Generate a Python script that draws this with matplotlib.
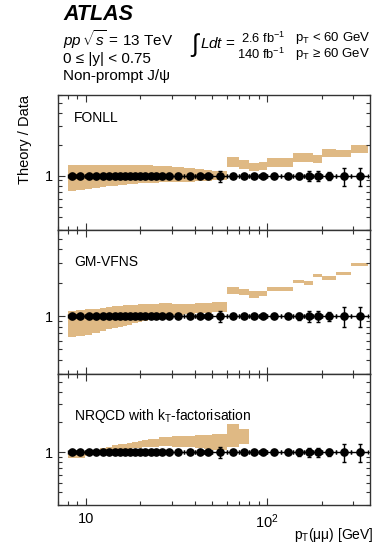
"""Theory / Data ratios for non-prompt J/psi production, 0 <= |y| < 0.75."""

import matplotlib
matplotlib.use("Agg")
import matplotlib.pyplot as plt
import numpy as np
from matplotlib.ticker import FixedLocator, NullFormatter, FixedFormatter

plt.rcParams["font.family"] = ["Liberation Sans", "DejaVu Sans"]
plt.rcParams["mathtext.fontset"] = "custom"
plt.rcParams["mathtext.rm"] = "Liberation Sans"
plt.rcParams["mathtext.it"] = "Liberation Sans:italic"
plt.rcParams["mathtext.bf"] = "Liberation Sans:bold"

# pT(mumu) bin edges [GeV]
pt_edges = np.array([8, 8.8, 9.9, 10.9, 12, 13, 14, 15, 16, 17, 18, 19.4, 20.5, 22,
                     23.6, 25.5, 27.5, 30, 35, 40, 45, 50, 60, 70, 80, 90, 100, 120,
                     140, 160, 180, 200, 240, 290, 360])

# relative total uncertainty of the data in each bin
data_err = np.array([0.02, 0.02, 0.02, 0.02, 0.02, 0.02, 0.02, 0.02, 0.02, 0.02, 0.02,
                     0.02, 0.02, 0.02, 0.02, 0.02, 0.02, 0.03, 0.03, 0.03, 0.04, 0.12,
                     0.03, 0.03, 0.03, 0.03, 0.03, 0.04, 0.07, 0.11, 0.11, 0.09, 0.2,
                     0.2])

# FONLL / data band (lower, upper)
fonll_lo = [0.71, 0.73, 0.75, 0.77, 0.78, 0.79, 0.80, 0.81, 0.82, 0.83, 0.84, 0.85,
            0.85, 0.86, 0.86, 0.87, 0.87, 0.88, 0.88, 0.89, 0.89, 0.90,
            1.21, 1.16, 1.11, 1.13, 1.21, 1.21, 1.35, 1.35, 1.33, 1.50, 1.52, 1.67]
fonll_hi = [1.26, 1.27, 1.27, 1.28, 1.28, 1.28, 1.28, 1.28, 1.28, 1.27, 1.27, 1.27,
            1.26, 1.26, 1.25, 1.24, 1.23, 1.21, 1.18, 1.15, 1.13, 1.12,
            1.50, 1.42, 1.34, 1.36, 1.47, 1.47, 1.65, 1.65, 1.60, 1.83, 1.78, 2.00]

# GM-VFNS / data band
gmvfns_lo = [0.645, 0.66, 0.68, 0.71, 0.74, 0.76, 0.78, 0.80, 0.82, 0.84, 0.86, 0.88,
             0.91, 0.94, 0.97, 0.99, 1.00, 1.02, 1.04, 1.06, 1.07, 1.08,
             1.59, 1.54, 1.45, 1.51, 1.68, 1.68, 2.00, 1.92, 2.25, 2.14, 2.33, 2.86]
gmvfns_hi = [1.12, 1.13, 1.15, 1.17, 1.19, 1.21, 1.23, 1.24, 1.25, 1.26, 1.27, 1.28,
             1.29, 1.30, 1.30, 1.31, 1.31, 1.30, 1.30, 1.31, 1.32, 1.34,
             1.83, 1.77, 1.67, 1.70, 1.85, 1.85, 2.14, 2.08, 2.41, 2.29, 2.49, 3.03]

# NRQCD (kT-factorisation) / data band, available up to 80 GeV
nrqcd_lo = [0.87, 0.87, 0.93, 0.97, 0.99, 1.01, 1.03, 1.05, 1.07, 1.08, 1.10, 1.11,
            1.12, 1.13, 1.14, 1.16, 1.15, 1.14, 1.13, 1.11, 1.09, 1.06,
            1.14, 1.20] + [np.nan] * 10
nrqcd_hi = [1.02, 1.02, 1.03, 1.06, 1.10, 1.14, 1.17, 1.20, 1.22, 1.25, 1.28, 1.30,
            1.33, 1.35, 1.37, 1.43, 1.42, 1.44, 1.46, 1.48, 1.50, 1.52,
            1.92, 1.70] + [np.nan] * 10

models = [("FONLL", fonll_lo, fonll_hi),
          ("GM-VFNS", gmvfns_lo, gmvfns_hi),
          (r"NRQCD with k$_\mathrm{T}$-factorisation", nrqcd_lo, nrqcd_hi)]

band_color = "#dfb984"
W, H = 376, 543

fig = plt.figure(figsize=(W / 100, H / 100), dpi=100)


def ftext(x, y, s, **kw):
    fig.text(x / W, 1 - y / H, s, **kw)


# panel extents in pixels (top, bottom) and label heights
panel_px = [(95, 230), (230, 374), (374, 505)]
label_y = [118, 262, 416]
left_px, right_px = 57.5, 370

centers = 0.5 * (pt_edges[:-1] + pt_edges[1:])
xerr = [centers - pt_edges[:-1], pt_edges[1:] - centers]
widths = np.diff(pt_edges)

for i, ((top, bot), (name, lo, hi)) in enumerate(zip(panel_px, models)):
    ax = fig.add_axes([left_px / W, 1 - bot / H, (right_px - left_px) / W, (bot - top) / H])
    lo = np.asarray(lo, dtype=float)
    hi = np.asarray(hi, dtype=float)
    ok = np.isfinite(lo)
    ax.bar(pt_edges[:-1][ok], (hi - lo)[ok], width=widths[ok], bottom=lo[ok],
           align="edge", color=band_color, linewidth=0, zorder=1)
    ax.errorbar(centers, np.ones_like(centers), xerr=xerr, yerr=data_err,
                fmt="o", color="black", ms=5.2, elinewidth=1.0, capsize=1.5,
                capthick=1.0, zorder=3)

    ax.set_xscale("log")
    ax.set_yscale("log")
    ax.set_xlim(7, 370)
    ax.set_ylim(0.3, 6)

    ax.xaxis.set_major_locator(FixedLocator([10, 100]))
    ax.xaxis.set_minor_locator(FixedLocator([7, 8, 9, 20, 30, 40, 50, 60, 70, 80, 90,
                                             200, 300]))
    ax.xaxis.set_minor_formatter(NullFormatter())
    if i == 2:
        ax.xaxis.set_major_formatter(FixedFormatter(["10", r"10$^2$"]))
    else:
        ax.xaxis.set_major_formatter(NullFormatter())

    ax.yaxis.set_major_locator(FixedLocator([1]))
    ax.yaxis.set_major_formatter(FixedFormatter(["1"]))
    ax.yaxis.set_minor_locator(FixedLocator([0.3, 0.4, 0.5, 0.6, 0.7, 0.8, 0.9,
                                             2, 3, 4, 5, 6]))
    ax.yaxis.set_minor_formatter(NullFormatter())

    ax.tick_params(which="both", direction="in", top=True, right=True,
                   labelsize=10.5, width=0.8, color="#333333")
    ax.tick_params(which="major", length=5)
    ax.tick_params(which="minor", length=3)
    ax.tick_params(axis="x", pad=5)
    for s in ax.spines.values():
        s.set_linewidth(1.0)
        s.set_color("#333333")

    ftext(74, label_y[i], name, fontsize=10, va="center", ha="left")


ftext(63, 15, "ATLAS", fontsize=15.5, fontweight="bold", fontstyle="italic", va="center")
ftext(63, 40, r"$pp\,\sqrt{s}$ = 13 TeV", fontsize=11, va="center")
ftext(63, 59, "0 ≤ |y| < 0.75", fontsize=11, va="center")
ftext(63, 76, "Non-prompt J/ψ", fontsize=11, va="center")

ftext(190, 45, r"$\int$", fontsize=18, va="center")
ftext(200, 43, r"$Ldt$ =", fontsize=11, va="center")
ftext(285, 38, r"2.6 fb$^{-1}$", fontsize=9.3, va="center", ha="right")
ftext(285, 54, r"140 fb$^{-1}$", fontsize=9.3, va="center", ha="right")
ftext(295, 38, r"p$_\mathrm{T}$ < 60 GeV", fontsize=9.5, va="center")
ftext(295, 54, r"p$_\mathrm{T}$ ≥ 60 GeV", fontsize=9.5, va="center")

ftext(25, 95, "Theory / Data", fontsize=10.5, rotation=90, va="top", ha="center")
ftext(374, 535, r"p$_\mathrm{T}$(μμ) [GeV]", fontsize=10, va="center", ha="right")

fig.savefig("out.png", dpi=100)
